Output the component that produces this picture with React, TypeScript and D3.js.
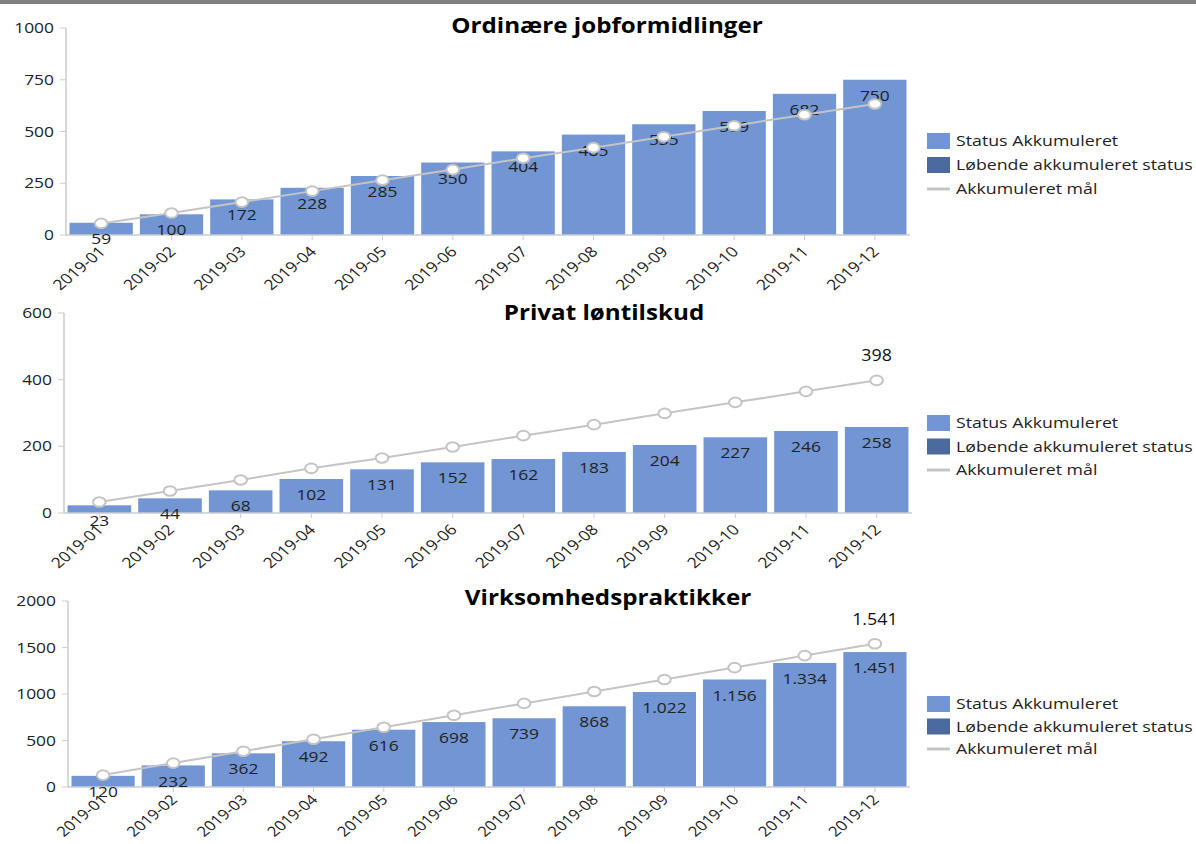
import React from "react";
import * as d3 from "d3";

const months = ["2019-01","2019-02","2019-03","2019-04","2019-05","2019-06","2019-07","2019-08","2019-09","2019-10","2019-11","2019-12"];

const jobStatus = [59,100,172,228,285,350,404,485,535,599,682,750];
const jobGoal = [56,106,159,212,265,316,371,422,475,528,581,633];
const jobTicks = [0,250,500,750,1000];

const loenStatus = [23,44,68,102,131,152,162,183,204,227,246,258];
const loenGoal = [33,66,99,134,165,198,232,265,299,332,365,398];
const loenTicks = [0,200,400,600];

const virkStatus = [120,232,362,492,616,698,739,868,1022,1156,1334,1451];
const virkGoal = [128,257,385,514,642,771,899,1027,1156,1284,1413,1541];
const virkTicks = [0,500,1000,1500,2000];

const legendLabels = ["Status Akkumuleret","Løbende akkumuleret status","Akkumuleret mål"];

const BAR = "#7295d3";
const BAR_DARK = "#4b6a9f";
const LINE = "#c4c4c4";
const AXIS = "#c9ccd1";
const FONT = "'Open Sans', 'Noto Sans', sans-serif";
const SX = 1.2;

const locale = d3.formatLocale({ decimal: ",", thousands: ".", grouping: [3], currency: ["", " kr."] });
const fmt = locale.format(",d");

type TProps = {
  x: number; y: number; size: number; anchor?: string; sx?: number; rot?: number;
  weight?: string; fill?: string; dy?: string; children: React.ReactNode;
};

function T({ x, y, size, anchor = "start", sx = SX, rot = 0, weight = "normal", fill = "#222", dy = "0.35em", children }: TProps) {
  return (
    <text transform={`translate(${x},${y}) scale(${sx},1) rotate(${rot})`} dy={dy} textAnchor={anchor}
      fontSize={size} fontWeight={weight} fill={fill} fontFamily={FONT}>{children}</text>
  );
}

type ChartProps = {
  title: string;
  status: number[];
  goal: number[];
  ticks: number[];
  x0: number; x1: number; yTop: number; yBottom: number;
  titleY: number; titleX: number;
  legendY: number; legendStep: number;
  showGoalLabel: boolean;
  xLabelOffset: number; xLabelSize: number;
};

function Chart(p: ChartProps) {
  const max = p.ticks[p.ticks.length - 1];
  const x = d3.scaleBand<string>().domain(months).range([p.x0, p.x1]).paddingInner(0.1).paddingOuter(0.05);
  const y = d3.scaleLinear().domain([0, max]).range([p.yBottom, p.yTop]);
  const cx = (i: number) => (x(months[i]) as number) + x.bandwidth() / 2;
  const line = d3.line<number>().x((_, i) => cx(i)).y(d => y(d));
  const last = p.goal.length - 1;
  const ls = p.legendStep;
  return (
    <g>
      {/* y axis */}
      <line x1={p.x0} x2={p.x0} y1={p.yTop} y2={p.yBottom} stroke={AXIS} strokeWidth={1.5} />
      {p.ticks.map(t => (
        <g key={t}>
          <line x1={p.x0 - 6} x2={p.x0} y1={y(t)} y2={y(t)} stroke={AXIS} strokeWidth={1} />
          <T x={p.x0 - 12} y={y(t)} size={14.5} anchor="end">{t}</T>
        </g>
      ))}
      {/* bars */}
      {p.status.map((v, i) => (
        <rect key={i} x={x(months[i])} y={y(v)} width={x.bandwidth()} height={p.yBottom - y(v)} fill={BAR} />
      ))}
      {/* x axis */}
      <line x1={p.x0} x2={p.x1} y1={p.yBottom} y2={p.yBottom} stroke={AXIS} strokeWidth={1.5} />
      {months.map((m, i) => (
        <g key={m}>
          <line x1={cx(i)} x2={cx(i)} y1={p.yBottom} y2={p.yBottom + 5} stroke={AXIS} strokeWidth={1} />
          <T x={cx(i) + 1} y={p.yBottom + p.xLabelOffset} size={p.xLabelSize} anchor="end" rot={-45}>{m}</T>
        </g>
      ))}
      {/* bar labels */}
      {p.status.map((v, i) => (
        <T key={i} x={cx(i)} y={y(v) + 16} size={14.5} anchor="middle">{fmt(v)}</T>
      ))}
      {/* goal line */}
      <path d={line(p.goal) || ""} fill="none" stroke={LINE} strokeWidth={2} />
      {p.goal.map((v, i) => (
        <ellipse key={i} cx={cx(i)} cy={y(v)} rx={6.3} ry={4.8} fill="#fff" stroke={LINE} strokeWidth={2} />
      ))}
      {p.showGoalLabel && (
        <T x={cx(last)} y={y(p.goal[last]) - 25} size={17} sx={1.05} anchor="middle" fill="#111">{fmt(p.goal[last])}</T>
      )}
      {/* title */}
      <T x={p.titleX} y={p.titleY} size={22} sx={1.1} weight="bold" anchor="middle" fill="#000">{p.title}</T>
      {/* legend */}
      <g transform={`translate(927,${p.legendY})`}>
        <rect x={0} y={-8} width={23} height={16} fill={BAR} />
        <T x={29} y={0} size={14.8}>{legendLabels[0]}</T>
        <rect x={0} y={ls - 8} width={23} height={16} fill={BAR_DARK} />
        <T x={29} y={ls} size={14.8}>{legendLabels[1]}</T>
        <line x1={0} x2={23} y1={2 * ls} y2={2 * ls} stroke={LINE} strokeWidth={3} />
        <T x={29} y={2 * ls} size={14.8}>{legendLabels[2]}</T>
      </g>
    </g>
  );
}

export default function App() {
  return (
    <div style={{ position: "absolute", left: 0, top: 0 }}>
      <svg width={1196} height={844} style={{ display: "block", background: "#fff" }}>
        <rect x={0} y={0} width={1196} height={4} fill="#808080" />
        <Chart title="Ordinære jobformidlinger" status={jobStatus} goal={jobGoal} ticks={jobTicks}
          x0={66} x1={910} yTop={28} yBottom={235} titleX={607} titleY={25} legendY={141} legendStep={24}
          showGoalLabel={false} xLabelOffset={14} xLabelSize={14.5} />
        <Chart title="Privat løntilskud" status={loenStatus} goal={loenGoal} ticks={loenTicks}
          x0={64} x1={912} yTop={313} yBottom={513} titleX={604} titleY={312} legendY={423} legendStep={23.5}
          showGoalLabel={true} xLabelOffset={14} xLabelSize={14.5} />
        <Chart title="Virksomhedspraktikker" status={virkStatus} goal={virkGoal} ticks={virkTicks}
          x0={68} x1={910} yTop={601} yBottom={787} titleX={608} titleY={597} legendY={704} legendStep={22.5}
          showGoalLabel={true} xLabelOffset={10} xLabelSize={14} />
      </svg>
    </div>
  );
}
